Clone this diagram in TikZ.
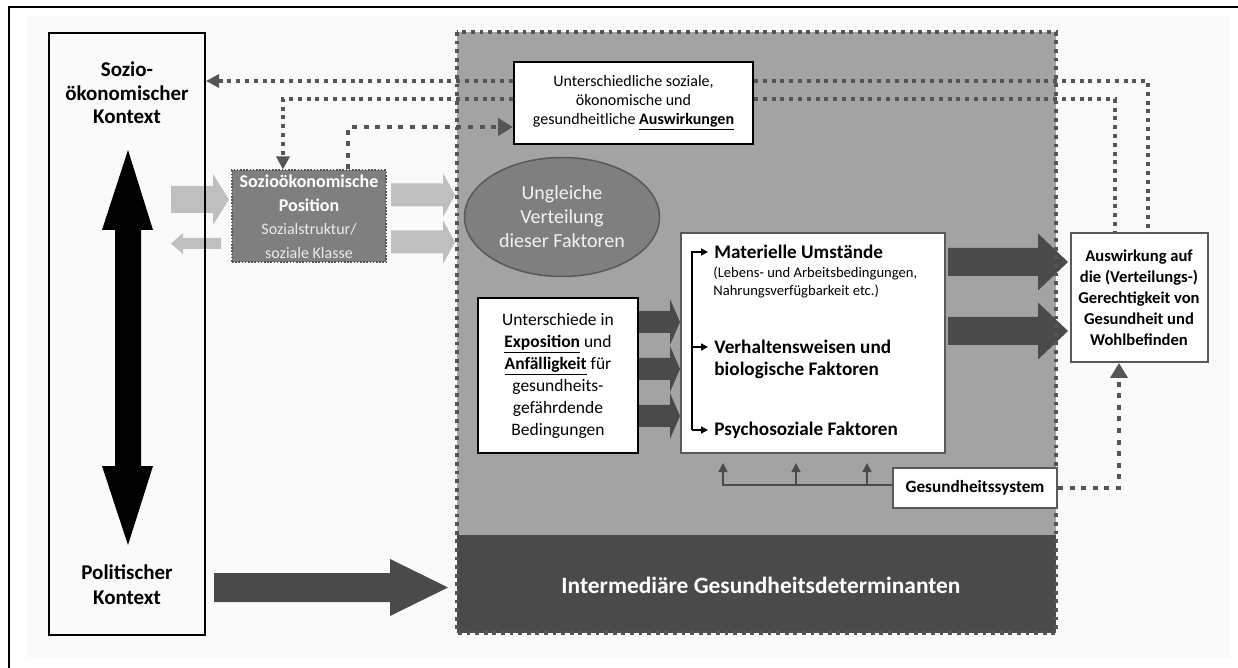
\documentclass[tikz,border=0pt]{standalone}
\usepackage{fontspec}
\setmainfont{Carlito}
\usetikzlibrary{arrows.meta,shapes.geometric}
\definecolor{bgc}{HTML}{FAFAFA}
\definecolor{midgray}{HTML}{A3A3A3}
\definecolor{dkgray}{HTML}{4A4A4A}
\definecolor{sepgray}{HTML}{7F7F7F}
\definecolor{ltarrow}{HTML}{BFBFBF}
\definecolor{dotgray}{HTML}{555555}
\definecolor{boxedge}{HTML}{595959}
\newcommand\fsz[2]{\fontsize{#1}{#2}\selectfont}
% horizontal block arrow: x-start, x-headbase, x-tip, y-centre, shaft half height, head half height, colour
\newcommand\hblockarrow[7]{\fill[#7] (#1,#4-#5) -- (#2,#4-#5) -- (#2,#4-#6) -- (#3,#4) -- (#2,#4+#6) -- (#2,#4+#5) -- (#1,#4+#5) -- cycle;}
\begin{document}
\begin{tikzpicture}[x=0.5pt,y=-0.5pt,
  box/.style={draw, fill=white, inner sep=0pt, align=center, line width=1pt},
  dotA/.style={dotgray, line width=1.8pt, dash pattern=on 2pt off 2.4pt},
  dotB/.style={dotgray, line width=2.4pt, dash pattern=on 2.5pt off 3.3pt},
  tipsmall/.style={-{Triangle[length=6.5pt,width=6.5pt]}},
  tipbig/.style={-{Triangle[length=7.5pt,width=8.5pt]}},
  thinarr/.style={dkgray, line width=0.7pt, -{Triangle[length=4.5pt,width=4.5pt]}},
  brk/.style={black, line width=0.7pt, -{Triangle[length=3.5pt,width=3.5pt]}},
  factxt/.style={anchor=west, inner sep=0pt, font=\bfseries\fsz{9.6pt}{11.5pt}},
  facsmall/.style={anchor=west, inner sep=0pt, font=\fsz{7.3pt}{9pt}}
]
\useasboundingbox (0,0) rectangle (1238,668);
\fill[white] (0,0) rectangle (1238,668);
\fill[bgc] (27,16) rectangle (1230,658);
\draw[line width=0.9pt] (9,668) -- (9,7) -- (1238,7);

% intermediate determinants area
\fill[midgray] (457,32) rectangle (1056,535);
\fill[dkgray] (457,535) rectangle (1056,633);
\node[text=white, font=\bfseries\fsz{11.7pt}{13pt}] (inter) at (761,585) {Intermediäre Gesundheitsdeterminanten};

% block arrows
\hblockarrow{171}{213}{229}{199.5}{13.5}{25.5}{ltarrow}
\hblockarrow{221}{183}{171}{243.5}{5.5}{10.5}{ltarrow}
\hblockarrow{391}{443}{455}{195}{11.5}{22}{ltarrow}
\hblockarrow{391}{443}{455}{242}{11.5}{22}{ltarrow}
\hblockarrow{214}{390}{448}{587.5}{14.5}{28.5}{dkgray}
\hblockarrow{638}{670}{680}{322}{11}{23}{dkgray}
\hblockarrow{638}{670}{680}{369}{11}{23}{dkgray}
\hblockarrow{638}{670}{680}{416}{11}{23}{dkgray}
\hblockarrow{948}{1038}{1068}{262}{14}{28.5}{dkgray}
\hblockarrow{948}{1038}{1068}{331}{14}{28.5}{dkgray}
% vertical double arrow
\fill[black] (128,150) -- (153,230) -- (141,230) -- (141,466) -- (153,466) -- (128,545)
  -- (102,466) -- (115,466) -- (115,230) -- (102,230) -- cycle;

\draw[dotgray, line width=1.6pt, dash pattern=on 1.9pt off 2.4pt] (457,32) rectangle (1056,633);

% context box
\node[draw=black, line width=1pt, minimum width=78pt, minimum height=301pt, inner sep=0pt] (ctx) at (127,334) {};
\node[font=\bfseries\fsz{10.5pt}{11.75pt}, align=center] (ctxtop) at (127,93) {Sozio-\\ökonomischer\\Kontext};
\node[font=\bfseries\fsz{10.5pt}{12.5pt}, align=center] (ctxbot) at (127,585) {Politischer\\Kontext};

% socio-economic position
\node[fill=sepgray, draw=dotgray, line width=1pt, dash pattern=on 0.8pt off 0.8pt,
  minimum width=77pt, minimum height=46pt, inner sep=0pt, align=center, text=white] (sep) at (309,216.5)
  {\fsz{9pt}{11pt}\bfseries Sozioökonomische\\\fsz{9pt}{11.5pt}\bfseries Position\\[-0.5pt]
   \fsz{8pt}{10pt}\color{black!8}Sozialstruktur/\\\fsz{8pt}{9.5pt}\color{black!8}soziale Klasse};

% ellipse
\node[ellipse, fill=sepgray, draw=boxedge, line width=0.75pt, minimum width=97.5pt, minimum height=59.5pt,
  inner sep=0pt, align=center, text=black!5, font=\fsz{10pt}{12pt}] (ell) at (562,217)
  {Ungleiche\\Verteilung\\dieser Faktoren};

% outcomes box
\node[box, draw=black, minimum width=119.5pt, minimum height=41pt, font=\fsz{8pt}{9.5pt}] (ausw) at (633.5,103)
  {Unterschiedliche soziale,\\ökonomische und\\gesundheitliche \textbf{\underline{Auswirkungen}}};

% exposure box
\node[box, draw=black, minimum width=80pt, minimum height=77.5pt, font=\fsz{8.75pt}{11pt}] (unt) at (558,375.5)
  {Unterschiede in\\\textbf{\underline{Exposition}} und\\\textbf{\underline{Anfälligkeit}} für\\gesundheits-\\gefährdende\\Bedingungen};

% factors box
\node[box, draw=boxedge, minimum width=132pt, minimum height=110pt] (fac) at (813,343) {};
\node[factxt] (m1) at (714,252) {Materielle Umstände};
\node[facsmall] (m1a) at (713,273) {(Lebens- und Arbeitsbedingungen,};
\node[facsmall] (m1b) at (713,291) {Nahrungsverfügbarkeit etc.)};
\node[factxt] (m2) at (714,347) {Verhaltensweisen und};
\node[factxt] (m2b) at (714,370) {biologische Faktoren};
\node[factxt] (m3) at (714,430) {Psychosoziale Faktoren};
\draw[brk] ([xshift=-11pt]m3.west) |- ([xshift=-3pt]m1.west);
\draw[brk] ([xshift=-11pt]m2.west) -- ([xshift=-3pt]m2.west);
\draw[brk] ([xshift=-11pt]m3.west) -- ([xshift=-3pt]m3.west);

% health system
\node[box, draw=boxedge, minimum width=82pt, minimum height=20pt, font=\bfseries\fsz{8.6pt}{10pt}] (ges) at (975,488) {Gesundheitssystem};
\coordinate (g0) at ([yshift=1.5pt]ges.west);
\coordinate (t1) at (723,463);
\coordinate (t2) at (796,463);
\coordinate (t3) at (867,463);
\draw[thinarr] (g0) -| (t1);
\draw[thinarr] (t2 |- g0) -- (t2);
\draw[thinarr] (t3 |- g0) -- (t3);

% outcome box
\node[box, draw=boxedge, minimum width=68.5pt, minimum height=64.5pt, font=\bfseries\fsz{8.3pt}{10.5pt}] (out) at (1139,297.5)
  {Auswirkung auf\\die (Verteilungs-)\\Gerechtigkeit von\\Gesundheit und\\Wohlbefinden};

% dotted feedback lines
\coordinate (a1) at ([yshift=11pt]ausw.west);
\coordinate (a1r) at ([yshift=11pt]ausw.east);
\coordinate (a2) at ([yshift=2pt]ausw.west);
\coordinate (a2r) at ([yshift=2pt]ausw.east);
\draw[dotA, tipsmall] (a1) -- (a1 -| ctx.east);
\draw[dotA] (a1r) -| ([xshift=4.5pt]out.north);
\draw[dotA, tipsmall] (a2) -| ([xshift=-13pt]sep.north);
\draw[dotA] (a2r) -| ([xshift=-12pt]out.north);
\draw[dotB, tipbig] ([xshift=19.5pt]sep.north) |- ([yshift=-12pt]ausw.west);
\draw[dotB, tipbig] (ges.east) -| ([xshift=-10pt]out.south);
\end{tikzpicture}
\end{document}
